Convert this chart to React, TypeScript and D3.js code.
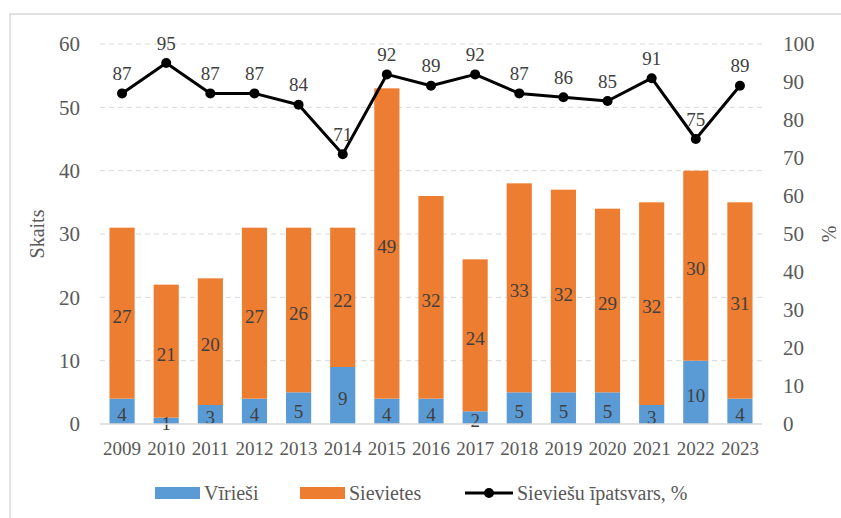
import React, { useEffect, useRef } from 'react';
import * as d3 from 'd3';

const YEARS = ['2009', '2010', '2011', '2012', '2013', '2014', '2015', '2016', '2017', '2018', '2019', '2020', '2021', '2022', '2023'];
const MEN = [4, 1, 3, 4, 5, 9, 4, 4, 2, 5, 5, 5, 3, 10, 4];
const WOMEN = [27, 21, 20, 27, 26, 22, 49, 32, 24, 33, 32, 29, 32, 30, 31];
const WOMEN_SHARE = [87, 95, 87, 87, 84, 71, 92, 89, 92, 87, 86, 85, 91, 75, 89];
const LEFT_TICKS = [0, 10, 20, 30, 40, 50, 60];
const RIGHT_TICKS = [0, 10, 20, 30, 40, 50, 60, 70, 80, 90, 100];

const BLUE = '#5B9BD5';
const ORANGE = '#ED7D31';
const TEXT = '#595959';
const LABEL = '#404040';
const GRID = '#D9D9D9';
const FONT = "'Liberation Serif', Tinos, 'DejaVu Serif', 'Noto Serif', 'Times New Roman', Times, serif";

const WIDTH = 841;
const HEIGHT = 518;
const plot = { left: 100, right: 762, top: 44, bottom: 424 };

function drawChart(svgEl: SVGSVGElement)
{
    const svg = d3.select(svgEl);
    svg.selectAll('*').remove();
    svg.attr('width', WIDTH).attr('height', HEIGHT);

    svg.append('rect')
        .attr('x', 10).attr('y', 14)
        .attr('width', WIDTH).attr('height', HEIGHT)
        .attr('fill', 'white')
        .attr('stroke', GRID)
        .attr('stroke-width', 1.5);

    const x = d3.scaleBand().domain(YEARS).range([plot.left, plot.right]).paddingInner(0.43).paddingOuter(0.215);
    const yLeft = d3.scaleLinear().domain([0, 60]).range([plot.bottom, plot.top]);
    const yRight = d3.scaleLinear().domain([0, 100]).range([plot.bottom, plot.top]);
    const center = (year: string) => (x(year) ?? 0) + x.bandwidth() / 2;

    const root = svg.append('g').style('font-family', FONT);

    // grid
    root.append('g')
        .selectAll('line')
        .data(LEFT_TICKS.filter((t) => t > 0))
        .join('line')
        .attr('x1', plot.left).attr('x2', plot.right)
        .attr('y1', (d) => yLeft(d)).attr('y2', (d) => yLeft(d))
        .attr('stroke', GRID)
        .attr('stroke-dasharray', '5,4');

    // left ticks
    root.append('g')
        .selectAll('text')
        .data(LEFT_TICKS)
        .join('text')
        .attr('x', plot.left - 20)
        .attr('y', (d) => yLeft(d))
        .attr('dy', '0.35em')
        .attr('text-anchor', 'end')
        .attr('font-size', 21).attr('fill', TEXT)
        .text((d) => d);

    // right ticks
    root.append('g')
        .selectAll('text')
        .data(RIGHT_TICKS)
        .join('text')
        .attr('x', plot.right + 21)
        .attr('y', (d) => yRight(d))
        .attr('dy', '0.35em')
        .attr('text-anchor', 'start')
        .attr('font-size', 21).attr('fill', TEXT)
        .text((d) => d);

    // axis titles
    root.append('text')
        .attr('transform', `translate(37,${ (plot.top + plot.bottom) / 2 }) rotate(-90)`)
        .attr('dy', '0.35em')
        .attr('text-anchor', 'middle')
        .attr('font-size', 20).attr('fill', TEXT)
        .text('Skaits');
    root.append('text')
        .attr('transform', `translate(829,${ (plot.top + plot.bottom) / 2 }) rotate(-90)`)
        .attr('dy', '0.35em')
        .attr('text-anchor', 'middle')
        .attr('font-size', 20).attr('fill', TEXT)
        .text('%');

    // bars
    const bars = root.append('g');
    YEARS.forEach((year, i) =>
    {
        const men = MEN[i];
        const women = WOMEN[i];
        bars.append('rect')
            .attr('x', x(year) ?? 0).attr('width', x.bandwidth())
            .attr('y', yLeft(men)).attr('height', yLeft(0) - yLeft(men))
            .attr('fill', BLUE);
        bars.append('rect')
            .attr('x', x(year) ?? 0).attr('width', x.bandwidth())
            .attr('y', yLeft(men + women)).attr('height', yLeft(men) - yLeft(men + women))
            .attr('fill', ORANGE);
        bars.append('text')
            .attr('x', center(year))
            .attr('y', (yLeft(0) + yLeft(men)) / 2 + 3)
            .attr('dy', '0.35em')
            .attr('text-anchor', 'middle')
            .attr('font-size', 19).attr('fill', LABEL)
            .text(men);
        bars.append('text')
            .attr('x', center(year))
            .attr('y', (yLeft(men) + yLeft(men + women)) / 2 + 3)
            .attr('dy', '0.35em')
            .attr('text-anchor', 'middle')
            .attr('font-size', 19).attr('fill', LABEL)
            .text(women);
    });

    // x axis
    root.append('line')
        .attr('x1', plot.left).attr('x2', plot.right)
        .attr('y1', plot.bottom).attr('y2', plot.bottom)
        .attr('stroke', GRID).attr('stroke-width', 1.5);
    root.append('g')
        .selectAll('text')
        .data(YEARS)
        .join('text')
        .attr('x', (d) => center(d))
        .attr('y', 448)
        .attr('dy', '0.35em')
        .attr('text-anchor', 'middle')
        .attr('font-size', 19).attr('fill', TEXT)
        .text((d) => d);

    // share line
    const line = d3.line<number>()
        .x((_, i) => center(YEARS[i]))
        .y((d) => yRight(d));
    root.append('path')
        .datum(WOMEN_SHARE)
        .attr('fill', 'none')
        .attr('stroke', 'black')
        .attr('stroke-width', 3)
        .attr('stroke-linejoin', 'round')
        .attr('d', line);
    root.append('g')
        .selectAll('circle')
        .data(WOMEN_SHARE)
        .join('circle')
        .attr('cx', (_, i) => center(YEARS[i]))
        .attr('cy', (d) => yRight(d))
        .attr('r', 5)
        .attr('fill', 'black');
    root.append('g')
        .selectAll('text')
        .data(WOMEN_SHARE)
        .join('text')
        .attr('x', (_, i) => center(YEARS[i]))
        .attr('y', (d) => yRight(d) - 20)
        .attr('dy', '0.35em')
        .attr('text-anchor', 'middle')
        .attr('font-size', 19).attr('fill', LABEL)
        .text((d) => d);

    // legend
    const legend = root.append('g').attr('font-size', 20).attr('fill', TEXT);
    legend.append('rect').attr('x', 155).attr('y', 487).attr('width', 45).attr('height', 12).attr('fill', BLUE);
    legend.append('text').attr('x', 204).attr('y', 493).attr('dy', '0.35em').text('Vīrieši');
    legend.append('rect').attr('x', 300).attr('y', 487).attr('width', 45).attr('height', 12).attr('fill', ORANGE);
    legend.append('text').attr('x', 349).attr('y', 493).attr('dy', '0.35em').text('Sievietes');
    legend.append('line').attr('x1', 465).attr('x2', 513).attr('y1', 493).attr('y2', 493).attr('stroke', 'black').attr('stroke-width', 3);
    legend.append('circle').attr('cx', 489).attr('cy', 493).attr('r', 5).attr('fill', 'black');
    legend.append('text').attr('x', 517).attr('y', 493).attr('dy', '0.35em').text('Sieviešu īpatsvars, %');
}

export default function App()
{
    const svgRef = useRef<SVGSVGElement>(null);

    useEffect(() =>
    {
        if (svgRef.current) drawChart(svgRef.current);
    }, []);

    return (
        <svg ref={ svgRef } style={ { position: 'absolute', left: 0, top: 0, background: 'white' } } />
    );
}
